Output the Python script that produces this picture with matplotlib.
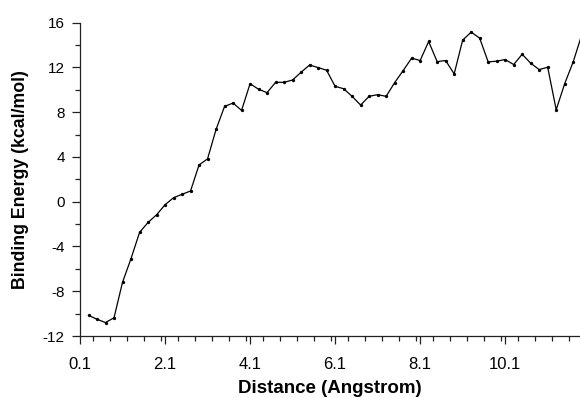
import numpy as np
import matplotlib.pyplot as plt
from matplotlib.ticker import MultipleLocator

plt.rcParams['font.family'] = ['Liberation Sans', 'DejaVu Sans']
#   use a plain hyphen for negative tick labels, as in the original
plt.rcParams['axes.unicode_minus'] = False

# distance (Angstrom), step 0.2 from 0.3
distance = [0.3, 0.5, 0.7, 0.9, 1.1, 1.3, 1.5, 1.7, 1.9, 2.1,
            2.3, 2.5, 2.7, 2.9, 3.1, 3.3, 3.5, 3.7, 3.9, 4.1,
            4.3, 4.5, 4.7, 4.9, 5.1, 5.3, 5.5, 5.7, 5.9, 6.1,
            6.3, 6.5, 6.7, 6.9, 7.1, 7.3, 7.5, 7.7, 7.9, 8.1,
            8.3, 8.5, 8.7, 8.9, 9.1, 9.3, 9.5, 9.7, 9.9, 10.1,
            10.3, 10.5, 10.7, 10.9, 11.1, 11.3, 11.5, 11.7, 11.9]
# binding energy (kcal/mol)
energy = [-10.16, -10.5, -10.8, -10.37, -7.2, -5.08, -2.75, -1.85, -1.17, -0.27,
          0.36, 0.66, 0.96, 3.29, 3.83, 6.46, 8.52, 8.82, 8.16, 10.55,
          10.05, 9.75, 10.67, 10.67, 10.88, 11.57, 12.22, 11.99, 11.75, 10.31,
          10.1, 9.42, 8.64, 9.42, 9.57, 9.42, 10.64, 11.72, 12.83, 12.62,
          14.32, 12.52, 12.62, 11.42, 14.44, 15.16, 14.62, 12.5, 12.56, 12.71,
          12.26, 13.18, 12.38, 11.81, 12.02, 8.22, 10.55, 12.5, 14.9]

xticks = [0.1, 2.1, 4.1, 6.1, 8.1, 10.1]
yticks = [-12, -8, -4, 0, 4, 8, 12, 16]

fig = plt.figure(figsize=(5.8, 3.98), dpi=100)
ax = fig.add_axes([80 / 580, 1 - 336 / 398, 1 - 80 / 580, (336 - 22.7) / 398])

ax.plot(distance, energy, color='black', lw=0.9, marker='o', ms=2.4,
        markerfacecolor='black', markeredgewidth=0)

ax.set_xlim(0.1, 11.86)
ax.set_ylim(-12, 16)
ax.set_xticks(xticks)
ax.set_xticklabels([str(t) for t in xticks])
ax.set_yticks(yticks)
ax.xaxis.set_minor_locator(MultipleLocator(0.4))
ax.yaxis.set_minor_locator(MultipleLocator(2))

for s in ['top', 'right']:
    ax.spines[s].set_visible(False)
for s in ['left', 'bottom']:
    ax.spines[s].set_linewidth(0.9)
    ax.spines[s].set_color('#222222')

ax.tick_params(which='major', length=6, width=0.9, color='#222222')
ax.tick_params(which='minor', length=3.6, width=0.9, color='#222222')
ax.tick_params(axis='x', which='major', labelsize=12, pad=9)
ax.tick_params(axis='y', which='major', labelsize=11, pad=5)

ax.set_xlabel('Distance (Angstrom)', fontsize=13.5, fontweight='bold', labelpad=6)
ax.set_ylabel('Binding Energy (kcal/mol)', fontsize=12.8, fontweight='bold', labelpad=10)

fig.savefig('out.png', dpi=100)
